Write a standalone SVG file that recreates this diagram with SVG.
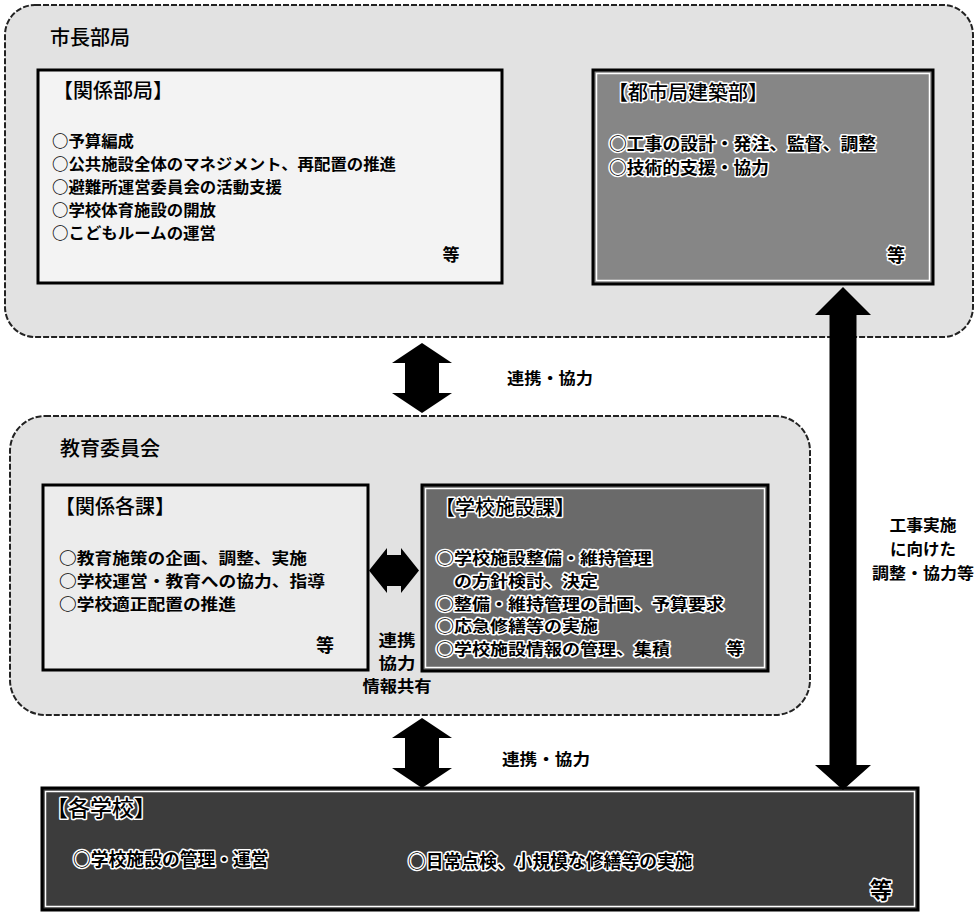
<svg xmlns="http://www.w3.org/2000/svg" width="976" height="913" viewBox="0 0 976 913">
<style>
  text { font-family: "Noto Sans CJK JP", "Noto Sans CJK SC", sans-serif; fill: #000; }
  .hd { font-size: 20px; font-weight: 500; text-anchor: middle; }
  .it { font-weight: 700; }
  .lb { font-size: 16px; font-weight: 700; text-anchor: middle; }
  .halo { stroke: #fff; stroke-width: 3px; paint-order: stroke; stroke-linejoin: round; }
  .outer { stroke: #222; stroke-width: 2; stroke-dasharray: 6 2; }
  .box { stroke: #000; stroke-width: 3; }
  .inset { fill: none; stroke: #fff; stroke-width: 1.5; }
  .arrow { fill: #000; }
</style>

<g id="mayor-office">
  <rect class="outer" x="5" y="5" width="968" height="332" rx="30" fill="#e2e2e2"/>
  <text class="hd" x="90" y="45">市長部局</text>
</g>

<g id="related-departments">
  <rect class="box" x="38" y="70" width="464" height="213" fill="#f3f3f3"/>
  <text class="hd" x="113" y="98">【関係部局】</text>
  <g class="it" font-size="15.5">
    <text x="52" y="147" textLength="82" lengthAdjust="spacingAndGlyphs">○予算編成</text>
    <text x="52" y="170" textLength="344" lengthAdjust="spacingAndGlyphs">○公共施設全体のマネジメント、再配置の推進</text>
    <text x="52" y="193" textLength="230" lengthAdjust="spacingAndGlyphs">○避難所運営委員会の活動支援</text>
    <text x="52" y="216" textLength="164" lengthAdjust="spacingAndGlyphs">○学校体育施設の開放</text>
    <text x="52" y="239" textLength="164" lengthAdjust="spacingAndGlyphs">○こどもルームの運営</text>
  </g>
  <text class="it" font-size="17" x="451" y="261" text-anchor="middle">等</text>
</g>

<g id="building-department">
  <rect class="box" x="593" y="70" width="340" height="214" fill="#868686"/>
  <rect class="inset" x="596.5" y="73.5" width="333" height="207"/>
  <text class="hd halo" x="688" y="100">【都市局建築部】</text>
  <g class="it halo" font-size="16.5">
    <text x="609" y="150" textLength="267" lengthAdjust="spacingAndGlyphs">○工事の設計・発注、監督、調整</text>
    <text x="609" y="174" textLength="160" lengthAdjust="spacingAndGlyphs">○技術的支援・協力</text>
  </g>
  <text class="it halo" font-size="18" x="896" y="262" text-anchor="middle">等</text>
</g>

<g id="board-of-education">
  <rect class="outer" x="10" y="416" width="800" height="299" rx="35" fill="#e2e2e2"/>
  <text class="hd" x="110" y="456">教育委員会</text>
</g>

<g id="related-sections">
  <rect class="box" x="43" y="485" width="325" height="185" fill="#ececec"/>
  <text class="hd" x="115" y="514">【関係各課】</text>
  <g class="it" font-size="15.6">
    <text x="59" y="564" textLength="248" lengthAdjust="spacingAndGlyphs">○教育施策の企画、調整、実施</text>
    <text x="59" y="587" textLength="266" lengthAdjust="spacingAndGlyphs">○学校運営・教育への協力、指導</text>
    <text x="59" y="610" textLength="177" lengthAdjust="spacingAndGlyphs">○学校適正配置の推進</text>
  </g>
  <text class="it" font-size="18" x="325" y="652" text-anchor="middle">等</text>
</g>

<g id="school-facilities-section">
  <rect class="box" x="422" y="485" width="346" height="186" fill="#6a6a6a"/>
  <rect class="inset" x="425.5" y="488.5" width="339" height="179"/>
  <text class="hd halo" x="505" y="515">【学校施設課】</text>
  <g class="it halo" font-size="15.4">
    <text x="436" y="564" textLength="216" lengthAdjust="spacingAndGlyphs">○学校施設整備・維持管理</text>
    <text x="454" y="587" textLength="144" lengthAdjust="spacingAndGlyphs">の方針検討、決定</text>
    <text x="436" y="609.5" textLength="288" lengthAdjust="spacingAndGlyphs">○整備・維持管理の計画、予算要求</text>
    <text x="436" y="632" textLength="162" lengthAdjust="spacingAndGlyphs">○応急修繕等の実施</text>
    <text x="436" y="655" textLength="234" lengthAdjust="spacingAndGlyphs">○学校施設情報の管理、集積</text>
  </g>
  <text class="it halo" font-size="17" x="735" y="655" text-anchor="middle">等</text>
</g>

<g id="schools">
  <rect class="box" x="42" y="788" width="876" height="122" fill="#3c3c3c"/>
  <rect class="inset" x="45.5" y="791.5" width="869" height="115"/>
  <text class="halo" font-size="22" font-weight="500" x="101" y="816" text-anchor="middle">【各学校】</text>
  <g class="it halo" font-size="17.8">
    <text x="73" y="866">○学校施設の管理・運営</text>
    <text x="408" y="868">○日常点検、小規模な修繕等の実施</text>
  </g>
  <text class="it halo" font-size="22" x="881" y="898" text-anchor="middle">等</text>
</g>

<g id="connectors">
  <polygon class="arrow" points="422,343 452,363 439,363 439,393 452,393 422,413 392,393 405,393 405,363 392,363"/>
  <polygon class="arrow" points="422,718 452,738 439,738 439,768 452,768 422,788 392,768 405,768 405,738 392,738"/>
  <polygon class="arrow" points="369,570.5 387,548 387,555 401,555 401,548 419,570.5 401,593 401,586 387,586 387,593"/>
  <polygon class="arrow" points="843,287 871,315 856.5,315 856.5,765 871,765 843,790 815,765 829.5,765 829.5,315 815,315"/>
  <text class="lb" x="550" y="384" textLength="86" lengthAdjust="spacingAndGlyphs">連携・協力</text>
  <text class="lb" x="546" y="765" textLength="88" lengthAdjust="spacingAndGlyphs">連携・協力</text>
  <text class="lb" x="397" y="646" font-size="15.8" textLength="37" lengthAdjust="spacingAndGlyphs">連携</text>
  <text class="lb" x="397" y="669" font-size="15.8" textLength="37" lengthAdjust="spacingAndGlyphs">協力</text>
  <text class="lb" x="397" y="692" font-size="15.8" textLength="69" lengthAdjust="spacingAndGlyphs">情報共有</text>
  <text class="lb" x="923" y="531" font-size="16.5" textLength="67" lengthAdjust="spacingAndGlyphs">工事実施</text>
  <text class="lb" x="923" y="555" font-size="16.5" textLength="66" lengthAdjust="spacingAndGlyphs">に向けた</text>
  <text class="lb" x="923" y="579" font-size="16.5" textLength="102" lengthAdjust="spacingAndGlyphs">調整・協力等</text>
</g>
</svg>
